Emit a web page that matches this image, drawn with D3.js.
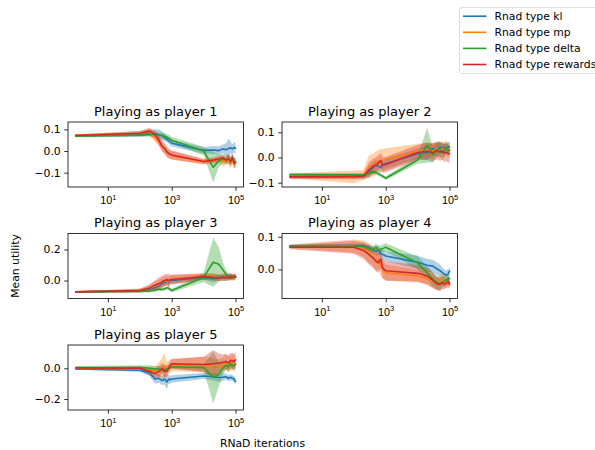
<!DOCTYPE html>
<html>
<head>
<meta charset="utf-8">
<script src="https://cdn.jsdelivr.net/npm/d3@7"></script>
<style>
  html, body { margin: 0; padding: 0; background: #fff; }
  svg { display: block; font-family: "DejaVu Sans", sans-serif; }
</style>
</head>
<body>
<svg id="chart" width="595" height="450"></svg>
<script>
// RNaD iteration counts at which each run was evaluated
const iterations = [1, 100, 200, 300, 400, 500, 600, 700, 800, 900, 1000,
  10000, 20000, 30000, 40000, 50000, 60000, 70000, 80000, 90000, 100000];

const seriesNames = ["Rnad type kl", "Rnad type mp", "Rnad type delta", "Rnad type rewards"];
const seriesColors = ["#1f77b4", "#ff7f0e", "#2ca02c", "#d62728"];

const panelTitles = ["Playing as player 1", "Playing as player 2", "Playing as player 3",
  "Playing as player 4", "Playing as player 5"];

// y-axis limits and ticks of each panel
const yLimits = [[-0.166, 0.134], [-0.117, 0.141], [-0.116, 0.303], [-0.089, 0.110], [-0.272, 0.152]];
const yTicks = [[-0.1, 0.0, 0.1], [-0.1, 0.0, 0.1], [0.0, 0.2], [0.0, 0.1], [-0.2, 0.0]];
const xTicks = [10, 1000, 100000];

// Mean utility per series (kl, mp, delta, rewards), one array per player
const meanP1 = [
  [0.070, 0.076, 0.082, 0.080, 0.075, 0.070, 0.062, 0.055, 0.048, 0.042, 0.036, 0.003, 0.005, 0.002, 0.010, 0.006, 0.012, 0.015, 0.010, 0.016, 0.013],
  [0.074, 0.081, 0.088, 0.062, 0.042, 0.022, 0.008, -0.004, -0.012, -0.016, -0.020, -0.050, -0.046, -0.040, -0.050, -0.045, -0.038, -0.055, -0.042, -0.060, -0.055],
  [0.068, 0.073, 0.077, 0.076, 0.074, 0.072, 0.068, 0.064, 0.060, 0.055, 0.050, 0.000, -0.075, -0.045, -0.036, -0.040, -0.038, -0.046, -0.030, -0.045, -0.050],
  [0.072, 0.082, 0.092, 0.077, 0.050, 0.022, 0.012, -0.003, -0.011, -0.015, -0.018, -0.048, -0.042, -0.037, -0.031, -0.042, -0.034, -0.049, -0.030, -0.057, -0.052]
];
const meanP2 = [
  [-0.075, -0.075, -0.074, -0.055, -0.040, -0.030, -0.035, -0.040, -0.030, -0.028, -0.025, 0.015, 0.020, 0.035, 0.030, 0.040, 0.035, 0.040, 0.038, 0.042, 0.042],
  [-0.073, -0.077, -0.070, -0.035, -0.030, -0.020, -0.015, -0.010, -0.012, -0.010, -0.008, 0.025, 0.030, 0.025, 0.035, 0.030, 0.035, 0.030, 0.040, 0.030, 0.030],
  [-0.068, -0.069, -0.070, -0.062, -0.057, -0.060, -0.065, -0.070, -0.074, -0.078, -0.082, -0.010, 0.049, 0.010, 0.030, 0.035, 0.020, 0.030, 0.040, 0.030, 0.028],
  [-0.077, -0.076, -0.074, -0.050, -0.035, -0.030, -0.020, -0.012, -0.030, -0.028, -0.028, 0.020, 0.025, 0.020, 0.028, 0.022, 0.025, 0.018, 0.020, 0.015, 0.016]
];
const meanP3 = [
  [-0.073, -0.066, -0.055, -0.045, -0.035, -0.020, -0.015, -0.005, -0.010, -0.002, 0.000, 0.020, 0.012, 0.020, 0.015, 0.020, 0.018, 0.020, 0.022, 0.024, 0.025],
  [-0.073, -0.064, -0.050, -0.035, -0.025, -0.012, -0.005, 0.000, -0.005, 0.005, 0.008, 0.025, 0.030, 0.015, 0.020, 0.018, 0.020, 0.025, 0.020, 0.022, 0.020],
  [-0.073, -0.070, -0.068, -0.062, -0.056, -0.058, -0.054, -0.047, -0.050, -0.058, -0.065, 0.020, 0.118, 0.105, 0.070, 0.040, 0.030, 0.028, 0.025, 0.025, 0.025],
  [-0.073, -0.065, -0.050, -0.030, -0.020, -0.010, 0.000, 0.005, 0.000, 0.005, 0.005, 0.025, 0.020, 0.015, 0.022, 0.018, 0.020, 0.022, 0.020, 0.024, 0.025]
];
const meanP4 = [
  [0.072, 0.073, 0.072, 0.066, 0.060, 0.056, 0.060, 0.048, 0.046, 0.044, 0.041, 0.022, 0.013, 0.010, 0.002, -0.004, -0.010, -0.015, -0.018, -0.014, -0.006],
  [0.070, 0.072, 0.064, 0.050, 0.040, 0.022, 0.030, 0.010, 0.000, -0.005, -0.010, -0.020, -0.028, -0.036, -0.044, -0.040, -0.032, -0.036, -0.040, -0.045, -0.040],
  [0.071, 0.071, 0.070, 0.064, 0.060, 0.068, 0.058, 0.062, 0.064, 0.066, 0.068, 0.020, -0.010, -0.030, -0.040, -0.045, -0.040, -0.035, -0.032, -0.030, -0.028],
  [0.068, 0.068, 0.058, 0.045, 0.035, 0.025, 0.020, 0.032, 0.005, 0.000, -0.004, -0.012, -0.020, -0.033, -0.044, -0.046, -0.040, -0.046, -0.042, -0.036, -0.045]
];
const meanP5 = [
  [-0.004, -0.012, -0.030, -0.070, -0.065, -0.080, -0.070, -0.090, -0.070, -0.075, -0.070, -0.050, -0.055, -0.060, -0.058, -0.055, -0.065, -0.058, -0.065, -0.070, -0.085],
  [0.000, -0.004, -0.010, -0.015, -0.010, 0.000, 0.020, -0.005, 0.010, 0.015, 0.020, 0.025, 0.005, 0.010, 0.020, 0.040, 0.025, 0.030, 0.040, 0.035, 0.030],
  [0.005, 0.005, 0.000, -0.005, -0.005, -0.010, -0.010, -0.005, 0.000, 0.005, 0.010, 0.005, -0.060, -0.040, 0.000, 0.020, 0.010, 0.030, 0.015, 0.020, 0.025],
  [0.002, 0.000, -0.020, -0.035, -0.020, 0.000, -0.020, -0.020, 0.000, 0.020, 0.030, 0.025, 0.030, 0.035, 0.040, 0.045, 0.035, 0.050, 0.050, 0.045, 0.055]
];

// Half-width of the shaded band around each mean
const spreadP1 = [
  [0.004, 0.010, 0.015, 0.018, 0.025, 0.020, 0.018, 0.015, 0.015, 0.015, 0.015, 0.015, 0.018, 0.020, 0.020, 0.030, 0.045, 0.030, 0.020, 0.025, 0.025],
  [0.004, 0.012, 0.020, 0.020, 0.020, 0.020, 0.020, 0.020, 0.020, 0.020, 0.020, 0.012, 0.012, 0.015, 0.020, 0.020, 0.020, 0.025, 0.020, 0.020, 0.020],
  [0.004, 0.006, 0.008, 0.010, 0.012, 0.015, 0.015, 0.015, 0.015, 0.015, 0.015, 0.020, 0.070, 0.030, 0.020, 0.020, 0.020, 0.020, 0.020, 0.020, 0.020],
  [0.004, 0.010, 0.012, 0.020, 0.025, 0.025, 0.025, 0.025, 0.022, 0.022, 0.020, 0.012, 0.012, 0.015, 0.015, 0.015, 0.020, 0.020, 0.020, 0.020, 0.020]
];
const spreadP2 = [
  [0.006, 0.008, 0.010, 0.020, 0.020, 0.020, 0.020, 0.020, 0.020, 0.020, 0.020, 0.020, 0.030, 0.025, 0.025, 0.025, 0.020, 0.020, 0.020, 0.020, 0.020],
  [0.010, 0.025, 0.020, 0.045, 0.045, 0.045, 0.045, 0.045, 0.045, 0.045, 0.045, 0.030, 0.030, 0.030, 0.030, 0.030, 0.030, 0.030, 0.030, 0.030, 0.030],
  [0.006, 0.008, 0.008, 0.008, 0.008, 0.008, 0.008, 0.008, 0.008, 0.008, 0.008, 0.015, 0.070, 0.030, 0.030, 0.030, 0.030, 0.025, 0.020, 0.020, 0.020],
  [0.008, 0.010, 0.010, 0.030, 0.030, 0.030, 0.030, 0.030, 0.030, 0.030, 0.030, 0.030, 0.035, 0.035, 0.035, 0.035, 0.035, 0.035, 0.035, 0.035, 0.035]
];
const spreadP3 = [
  [0.004, 0.008, 0.015, 0.020, 0.020, 0.020, 0.020, 0.020, 0.020, 0.020, 0.020, 0.015, 0.025, 0.020, 0.020, 0.020, 0.015, 0.015, 0.015, 0.015, 0.015],
  [0.004, 0.012, 0.020, 0.030, 0.030, 0.030, 0.030, 0.030, 0.030, 0.030, 0.030, 0.020, 0.020, 0.020, 0.020, 0.020, 0.020, 0.020, 0.020, 0.020, 0.020],
  [0.004, 0.006, 0.008, 0.010, 0.010, 0.010, 0.010, 0.010, 0.010, 0.010, 0.012, 0.030, 0.160, 0.110, 0.050, 0.030, 0.020, 0.020, 0.015, 0.015, 0.015],
  [0.004, 0.012, 0.025, 0.030, 0.040, 0.040, 0.040, 0.035, 0.045, 0.030, 0.030, 0.020, 0.020, 0.020, 0.020, 0.020, 0.020, 0.020, 0.020, 0.020, 0.020]
];
const spreadP4 = [
  [0.004, 0.006, 0.008, 0.010, 0.012, 0.015, 0.015, 0.015, 0.015, 0.015, 0.015, 0.020, 0.020, 0.020, 0.020, 0.020, 0.015, 0.015, 0.015, 0.015, 0.012],
  [0.006, 0.020, 0.025, 0.030, 0.030, 0.030, 0.030, 0.030, 0.030, 0.025, 0.025, 0.020, 0.020, 0.020, 0.020, 0.020, 0.020, 0.020, 0.015, 0.015, 0.015],
  [0.004, 0.006, 0.006, 0.008, 0.010, 0.012, 0.012, 0.012, 0.012, 0.012, 0.012, 0.020, 0.020, 0.020, 0.020, 0.020, 0.015, 0.015, 0.012, 0.012, 0.012],
  [0.006, 0.020, 0.025, 0.030, 0.030, 0.030, 0.030, 0.030, 0.030, 0.030, 0.030, 0.025, 0.025, 0.025, 0.020, 0.020, 0.020, 0.015, 0.015, 0.015, 0.015]
];
const spreadP5 = [
  [0.005, 0.010, 0.020, 0.030, 0.030, 0.030, 0.035, 0.050, 0.030, 0.025, 0.025, 0.020, 0.025, 0.030, 0.025, 0.020, 0.020, 0.020, 0.020, 0.020, 0.020],
  [0.005, 0.015, 0.020, 0.030, 0.050, 0.070, 0.080, 0.050, 0.040, 0.040, 0.040, 0.050, 0.060, 0.050, 0.050, 0.050, 0.050, 0.050, 0.050, 0.050, 0.050],
  [0.010, 0.015, 0.020, 0.020, 0.020, 0.020, 0.020, 0.020, 0.015, 0.015, 0.015, 0.020, 0.170, 0.080, 0.040, 0.030, 0.030, 0.030, 0.030, 0.030, 0.030],
  [0.005, 0.012, 0.025, 0.030, 0.035, 0.035, 0.040, 0.035, 0.030, 0.030, 0.030, 0.050, 0.090, 0.060, 0.050, 0.050, 0.050, 0.050, 0.050, 0.050, 0.050]
];

const means = [meanP1, meanP2, meanP3, meanP4, meanP5];
const spreads = [spreadP1, spreadP2, spreadP3, spreadP4, spreadP5];

// ---- layout ----
const svg = d3.select("#chart");
const panelW = 175.5, panelH = 65;
const colLeft = [68, 282];
const rowTop = [122, 233.5, 345];
const tickFont = 10.8, titleFont = 13;
const fmt = v => (v < 0 ? "\u2212" : "") + Math.abs(v).toFixed(1);

means.forEach((panelMeans, p) => {
  const left = colLeft[p % 2], top = rowTop[Math.floor(p / 2)];
  const g = svg.append("g").attr("transform", `translate(${left},${top})`);

  const x = d3.scaleLog().domain([Math.pow(10, -0.25), Math.pow(10, 5.25)]).range([0, panelW]);
  const y = d3.scaleLinear().domain(yLimits[p]).range([panelH, 0]);

  const clipId = "clip" + p;
  g.append("clipPath").attr("id", clipId)
    .append("rect").attr("width", panelW).attr("height", panelH);
  const plot = g.append("g").attr("clip-path", `url(#${clipId})`);

  panelMeans.forEach((series, s) => {
    const rows = iterations.map((it, i) => ({ it, m: series[i], sd: spreads[p][s][i] }));
    const area = d3.area()
      .x(d => x(d.it)).y0(d => y(d.m - d.sd)).y1(d => y(d.m + d.sd));
    plot.append("path").datum(rows)
      .attr("d", area).attr("fill", seriesColors[s]).attr("fill-opacity", 0.35).attr("stroke", "none");
  });
  panelMeans.forEach((series, s) => {
    const rows = iterations.map((it, i) => ({ it, m: series[i] }));
    const line = d3.line().x(d => x(d.it)).y(d => y(d.m));
    plot.append("path").datum(rows)
      .attr("d", line).attr("fill", "none").attr("stroke", seriesColors[s])
      .attr("stroke-width", 1.6).attr("stroke-linejoin", "round").attr("stroke-linecap", "square");
  });

  // frame
  g.append("rect").attr("width", panelW).attr("height", panelH)
    .attr("fill", "none").attr("stroke", "#000").attr("stroke-width", 0.8);

  // x axis
  const xAxis = g.append("g").attr("transform", `translate(0,${panelH})`)
    .call(d3.axisBottom(x).tickValues(xTicks).tickSize(3.8).tickPadding(3.5).tickFormat(""));
  xAxis.select(".domain").remove();
  xAxis.selectAll("line").attr("stroke-width", 0.8);
  xAxis.selectAll(".tick").each(function (d) {
    const t = d3.select(this).append("text")
      .attr("y", 17).attr("text-anchor", "middle").attr("fill", "#000")
      .style("font-size", tickFont + "px");
    t.append("tspan").text("10");
    t.append("tspan").attr("dy", -4.5).style("font-size", (tickFont * 0.7) + "px")
      .text(Math.round(Math.log10(d)));
  });

  // y axis
  const yAxis = g.append("g")
    .call(d3.axisLeft(y).tickValues(yTicks[p]).tickSize(3.8).tickPadding(3.5).tickFormat(fmt));
  yAxis.select(".domain").remove();
  yAxis.selectAll("line").attr("stroke-width", 0.8);
  yAxis.selectAll("text").style("font-size", tickFont + "px").attr("fill", "#000")
    .attr("font-family", "DejaVu Sans");

  // title
  g.append("text").attr("x", panelW / 2).attr("y", -6.5).attr("text-anchor", "middle")
    .style("font-size", titleFont + "px").text(panelTitles[p]);
});

// shared axis labels
svg.append("text").attr("x", 262.5).attr("y", 447).attr("text-anchor", "middle")
  .style("font-size", tickFont + "px").text("RNaD iterations");
svg.append("text").attr("transform", "translate(19,266) rotate(-90)").attr("text-anchor", "middle")
  .style("font-size", tickFont + "px").text("Mean utility");

// legend
const legend = svg.append("g").attr("transform", "translate(459.5,7.5)");
legend.append("rect").attr("width", 150).attr("height", 66).attr("rx", 2.5)
  .attr("fill", "#fff").attr("fill-opacity", 0.8).attr("stroke", "#d6d6d6").attr("stroke-width", 0.8);
seriesNames.forEach((name, i) => {
  const row = legend.append("g").attr("transform", `translate(0,${8.7 + i * 16.1})`);
  row.append("line").attr("x1", 3.5).attr("x2", 27).attr("stroke", seriesColors[i]).attr("stroke-width", 1.6);
  row.append("text").attr("x", 35).attr("y", 3.9).style("font-size", tickFont + "px").text(name);
});
</script>
</body>
</html>
